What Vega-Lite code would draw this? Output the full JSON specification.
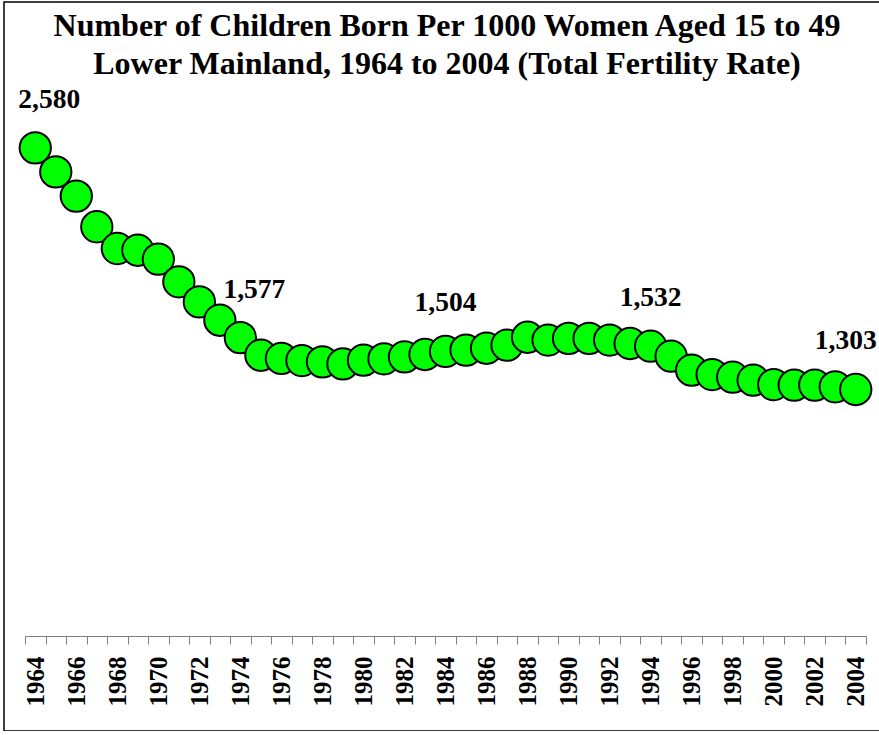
{
  "$schema": "https://vega.github.io/schema/vega-lite/v6.json",
  "width": 878,
  "height": 729,
  "autosize": {"type": "none"},
  "padding": {"left": 4, "top": 2, "right": 0, "bottom": 0},
  "background": "white",
  "title": {
    "text": ["Number of Children Born Per 1000 Women Aged 15 to 49", "Lower Mainland, 1964 to 2004 (Total Fertility Rate)"],
    "font": "Liberation Serif",
    "fontSize": 32,
    "fontWeight": "bold",
    "color": "black",
    "lineHeight": 38,
    "anchor": "middle",
    "frame": "group",
    "offset": -79,
    "dx": 4
  },
  "config": {
    "view": {"stroke": "black", "strokeWidth": 1.5}
  },
  "data": {
    "values": [
      {"year": 1964, "rate": 2580},
      {"year": 1965, "rate": 2453},
      {"year": 1966, "rate": 2325},
      {"year": 1967, "rate": 2163},
      {"year": 1968, "rate": 2048},
      {"year": 1969, "rate": 2039},
      {"year": 1970, "rate": 1992},
      {"year": 1971, "rate": 1872},
      {"year": 1972, "rate": 1766},
      {"year": 1973, "rate": 1669},
      {"year": 1974, "rate": 1577},
      {"year": 1975, "rate": 1484},
      {"year": 1976, "rate": 1467},
      {"year": 1977, "rate": 1456},
      {"year": 1978, "rate": 1449},
      {"year": 1979, "rate": 1438},
      {"year": 1980, "rate": 1458},
      {"year": 1981, "rate": 1465},
      {"year": 1982, "rate": 1475},
      {"year": 1983, "rate": 1488},
      {"year": 1984, "rate": 1504},
      {"year": 1985, "rate": 1511},
      {"year": 1986, "rate": 1521},
      {"year": 1987, "rate": 1537},
      {"year": 1988, "rate": 1579},
      {"year": 1989, "rate": 1564},
      {"year": 1990, "rate": 1573},
      {"year": 1991, "rate": 1573},
      {"year": 1992, "rate": 1564},
      {"year": 1993, "rate": 1546},
      {"year": 1994, "rate": 1532},
      {"year": 1995, "rate": 1479},
      {"year": 1996, "rate": 1405},
      {"year": 1997, "rate": 1382},
      {"year": 1998, "rate": 1368},
      {"year": 1999, "rate": 1352},
      {"year": 2000, "rate": 1329},
      {"year": 2001, "rate": 1326},
      {"year": 2002, "rate": 1326},
      {"year": 2003, "rate": 1317},
      {"year": 2004, "rate": 1303}
    ]
  },
  "encoding": {
    "x": {
      "field": "year",
      "type": "ordinal",
      "sort": "ascending",
      "scale": {"type": "band", "range": [21, 862], "paddingInner": 0, "paddingOuter": 0},
      "axis": {
        "title": null,
        "offset": -95,
        "tickBand": "extent",
        "tickSize": 8,
        "tickColor": "#808080",
        "domainColor": "#808080",
        "labelAngle": 270,
        "labelAlign": "right",
        "labelBaseline": "middle",
        "labelPadding": 12,
        "labelFont": "Liberation Serif",
        "labelFontSize": 25,
        "labelFontWeight": "bold",
        "labelColor": "black",
        "labelOverlap": false,
        "labelExpr": "datum.value % 2 == 0 ? datum.label : ''"
      }
    },
    "y": {
      "field": "rate",
      "type": "quantitative",
      "scale": {"domain": [0, 3351], "range": [634, 0], "nice": false, "zero": true},
      "axis": null
    }
  },
  "layer": [
    {
      "mark": {"type": "point", "shape": "circle", "filled": true, "fill": "#00FF00", "stroke": "black", "strokeWidth": 2, "size": 980, "opacity": 1}
    },
    {
      "transform": [{"filter": "datum.year == 1964 || datum.year == 1974"}],
      "mark": {"type": "text", "font": "Liberation Serif", "fontSize": 27.5, "fontWeight": "bold", "color": "black", "baseline": "alphabetic", "dy": -40, "dx": 14},
      "encoding": {"text": {"field": "rate", "type": "quantitative", "format": ","}}
    },
    {
      "transform": [{"filter": "datum.year == 1984 || datum.year == 1994"}],
      "mark": {"type": "text", "font": "Liberation Serif", "fontSize": 27.5, "fontWeight": "bold", "color": "black", "baseline": "alphabetic", "dy": -40, "dx": 0},
      "encoding": {"text": {"field": "rate", "type": "quantitative", "format": ","}}
    },
    {
      "transform": [{"filter": "datum.year == 2004"}],
      "mark": {"type": "text", "font": "Liberation Serif", "fontSize": 27.5, "fontWeight": "bold", "color": "black", "baseline": "alphabetic", "dy": -40, "dx": -10},
      "encoding": {"text": {"field": "rate", "type": "quantitative", "format": ","}}
    }
  ]
}
